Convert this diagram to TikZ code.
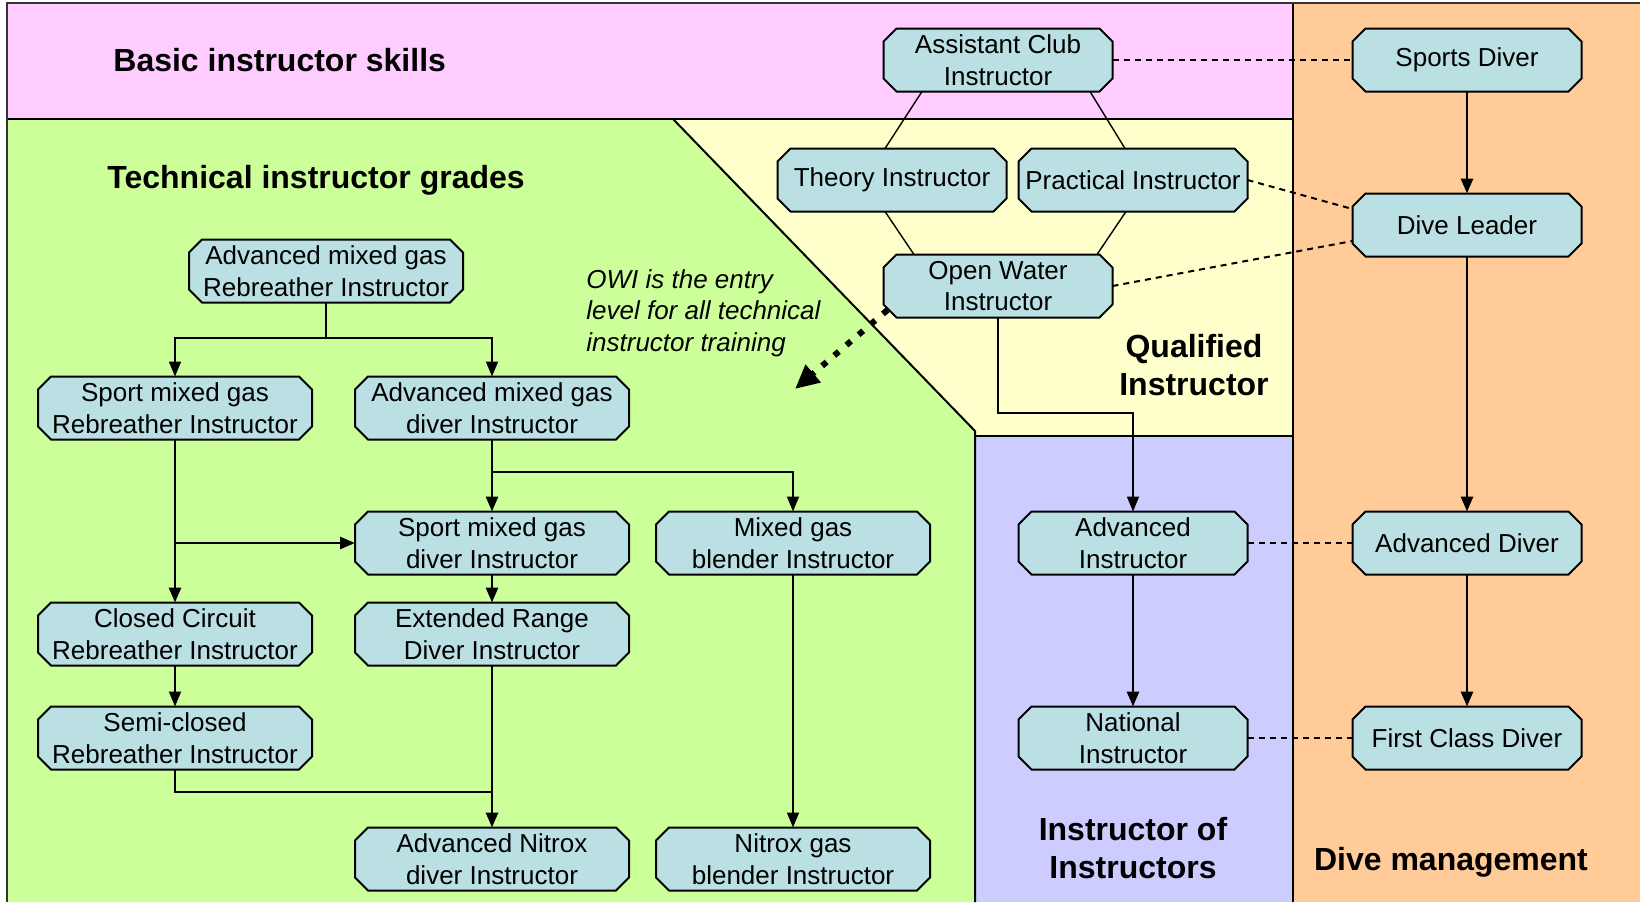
\documentclass[tikz,border=0pt]{standalone}
\usepackage{fontspec}
\setmainfont{Liberation Sans}
\usetikzlibrary{arrows.meta,calc}
\definecolor{pinkbg}{HTML}{FFCCFF}
\definecolor{greenbg}{HTML}{CCFF99}
\definecolor{yellowbg}{HTML}{FFFFCC}
\definecolor{purplebg}{HTML}{CCCCFF}
\definecolor{orangebg}{HTML}{FFCC99}
\definecolor{boxfill}{HTML}{BBE0E3}
\definecolor{framegray}{HTML}{333333}
\makeatletter
\pgfdeclareshape{cbox}{%
  \inheritsavedanchors[from=rectangle]%
  \inheritanchorborder[from=rectangle]%
  \inheritanchor[from=rectangle]{center}%
  \inheritanchor[from=rectangle]{north}%
  \inheritanchor[from=rectangle]{south}%
  \inheritanchor[from=rectangle]{east}%
  \inheritanchor[from=rectangle]{west}%
  \inheritanchor[from=rectangle]{north east}%
  \inheritanchor[from=rectangle]{north west}%
  \inheritanchor[from=rectangle]{south east}%
  \inheritanchor[from=rectangle]{south west}%
  \inheritanchor[from=rectangle]{text}%
  \inheritanchor[from=rectangle]{base}%
  \inheritanchor[from=rectangle]{mid}%
  \backgroundpath{%
    \southwest \edef\cbxa{\the\pgf@x}\edef\cbya{\the\pgf@y}%
    \northeast \edef\cbxb{\the\pgf@x}\edef\cbyb{\the\pgf@y}%
    \def\cbc{6.5pt}%
    \pgfpathmoveto{\pgfqpoint{\cbxa}{\dimexpr\cbya+\cbc\relax}}%
    \pgfpathlineto{\pgfqpoint{\cbxa}{\dimexpr\cbyb-\cbc\relax}}%
    \pgfpathlineto{\pgfqpoint{\dimexpr\cbxa+\cbc\relax}{\cbyb}}%
    \pgfpathlineto{\pgfqpoint{\dimexpr\cbxb-\cbc\relax}{\cbyb}}%
    \pgfpathlineto{\pgfqpoint{\cbxb}{\dimexpr\cbyb-\cbc\relax}}%
    \pgfpathlineto{\pgfqpoint{\cbxb}{\dimexpr\cbya+\cbc\relax}}%
    \pgfpathlineto{\pgfqpoint{\dimexpr\cbxb-\cbc\relax}{\cbya}}%
    \pgfpathlineto{\pgfqpoint{\dimexpr\cbxa+\cbc\relax}{\cbya}}%
    \pgfpathclose
  }%
}
\makeatother
\begin{document}
\begin{tikzpicture}[x=0.5pt,y=-0.5pt,
  box/.style={cbox, draw=black, line width=1pt, fill=boxfill, minimum width=113.5pt, minimum height=30.5pt,
    inner sep=1pt, align=center, font=\fontsize{13}{15.8}\selectfont},
  wbox/.style={box, minimum width=136pt},
  hdr/.style={inner sep=0pt, font=\bfseries\fontsize{16}{19.4}\selectfont},
  thickarr/.style={line width=1.4pt, -{Triangle[length=7.5pt,width=6pt]}},
  thinarr/.style={line width=0.9pt, -{Triangle[length=7.5pt,width=6pt]}},
  thinline/.style={line width=0.9pt},
  link/.style={line width=0.7pt},
  dashlink/.style={line width=1pt, dash pattern=on 3pt off 2.5pt},
  dotarrow/.style={line width=3pt, dash pattern=on 3pt off 5pt, -{Triangle[length=12pt,width=11pt]}}
]
\useasboundingbox (0,0) rectangle (1640,902);
\fill[white] (0,0) rectangle (1640,902);

% regions
\fill[pinkbg] (7,3) rectangle (1293,119);
\fill[greenbg] (7,119) -- (673,119) -- (975,431) -- (975,902) -- (7,902) -- cycle;
\fill[yellowbg] (673,119) -- (1293,119) -- (1293,436) -- (975,436) -- (975,431) -- cycle;
\fill[purplebg] (975,436) rectangle (1293,902);
\fill[orangebg] (1293,3) rectangle (1640,902);
\draw[line width=1.4pt] (7,119) -- (1293,119);
\draw[line width=1pt] (673,119) -- (975,431) -- (975,902);
\draw[line width=0.7pt] (975,436) -- (1293,436);
\draw[line width=1pt] (1293,3) -- (1293,902);
\draw[line width=1.2pt, framegray] (1640,3) -- (7,3) -- (7,902);

% headers
\node[hdr, anchor=west] (basic) at (113,60) {Basic instructor skills};
\node[hdr, anchor=west] (tech) at (107,180) {Technical instructor grades};
\node[hdr, align=center] (qual) at (1194,365) {Qualified\\Instructor};
\node[hdr, align=center] (ioi) at (1133,848) {Instructor of\\Instructors};
\node[hdr] (dm) at (1451,862) {Dive management};
\node[inner sep=0pt, anchor=west, align=left, font=\itshape\fontsize{13}{15.8}\selectfont] (note) at (586,313)
  {OWI is the entry\\level for all technical\\instructor training};

% nodes
\node[box] (ACI) at (998,60) {Assistant Club\\Instructor};
\node[box] (SD) at (1467,60) {Sports Diver};
\node[box] (TI) at (892,180) {Theory Instructor};
\node[box] (PI) at (1133,180) {Practical Instructor};
\node[box] (DL) at (1467,225) {Dive Leader};
\node[box] (OWI) at (998,286) {Open Water\\Instructor};
\node[wbox] (AMGR) at (326,271) {Advanced mixed gas\\Rebreather Instructor};
\node[wbox] (SMGR) at (175,408) {Sport mixed gas\\Rebreather Instructor};
\node[wbox] (AMGD) at (492,408) {Advanced mixed gas\\diver Instructor};
\node[wbox] (SMGD) at (492,543) {Sport mixed gas\\diver Instructor};
\node[wbox] (MGB) at (793,543) {Mixed gas\\blender Instructor};
\node[box] (AI) at (1133,543) {Advanced\\Instructor};
\node[box] (AD) at (1467,543) {Advanced Diver};
\node[wbox] (CCR) at (175,634) {Closed Circuit\\Rebreather Instructor};
\node[wbox] (ERD) at (492,634) {Extended Range\\Diver Instructor};
\node[wbox] (SCR) at (175,738) {Semi-closed\\Rebreather Instructor};
\node[box] (NI) at (1133,738) {National\\Instructor};
\node[box] (FCD) at (1467,738) {First Class Diver};
\node[wbox] (AND) at (492,859) {Advanced Nitrox\\diver Instructor};
\node[wbox] (NGB) at (793,859) {Nitrox gas\\blender Instructor};

\coordinate (owiturn) at (0,413);
\coordinate (amgrj) at (0,338);
\coordinate (mgj) at (0,472);
\coordinate (scrj) at (0,792);
\coordinate (owitip) at (795,389);

% plain links
\draw[link] ($(ACI.south)+(-76,0)$) -- ($(TI.north)+(-7,0)$);
\draw[link] ($(ACI.south)+(92,0)$) -- ($(PI.north)+(-8,0)$);
\draw[link] ($(TI.south)+(-7,0)$) -- ($(OWI.north)+(-84,0)$);
\draw[link] ($(PI.south)+(-7,0)$) -- ($(OWI.north)+(99,0)$);

% dashed links
\draw[dashlink] (ACI.east) -- (SD.west);
\draw[dashlink] (PI.east) -- ($(DL.west)+(0,-16)$);
\draw[dashlink] (OWI.east) -- ($(DL.west)+(0,16)$);
\draw[dashlink] (AI.east) -- (AD.west);
\draw[dashlink] (NI.east) -- (FCD.west);

% dive management chain
\draw[thickarr] (SD) -- (DL);
\draw[thickarr] (DL) -- (AD);
\draw[thickarr] (AD) -- (FCD);

% instructor chain
\draw[thinarr] (OWI.south) -- (OWI.south |- owiturn) -| (AI.north);
\draw[thickarr] (AI) -- (NI);

% dotted arrow
\draw[dotarrow] ($(OWI.west)+(4,24)$) -- (owitip);

% technical tree
\draw[thinline] (AMGR.south) -- (AMGR.south |- amgrj);
\draw[thinarr] (AMGR.south |- amgrj) -| (SMGR.north);
\draw[thinarr] (AMGR.south |- amgrj) -| (AMGD.north);
\draw[thickarr] (SMGR) -- (CCR);
\draw[thickarr] (SMGR.south |- SMGD.west) -- (SMGD.west);
\draw[thickarr] (AMGD) -- (SMGD);
\draw[thinarr] (AMGD.south |- mgj) -| (MGB.north);
\draw[thickarr] (SMGD) -- (ERD);
\draw[thinarr] (CCR) -- (SCR);
\draw[thickarr] (ERD) -- (AND);
\draw[thinline] (SCR.south) -- (SCR.south |- scrj) -- (AND.north |- scrj);
\draw[thinarr] (MGB) -- (NGB);
\end{tikzpicture}
\end{document}
